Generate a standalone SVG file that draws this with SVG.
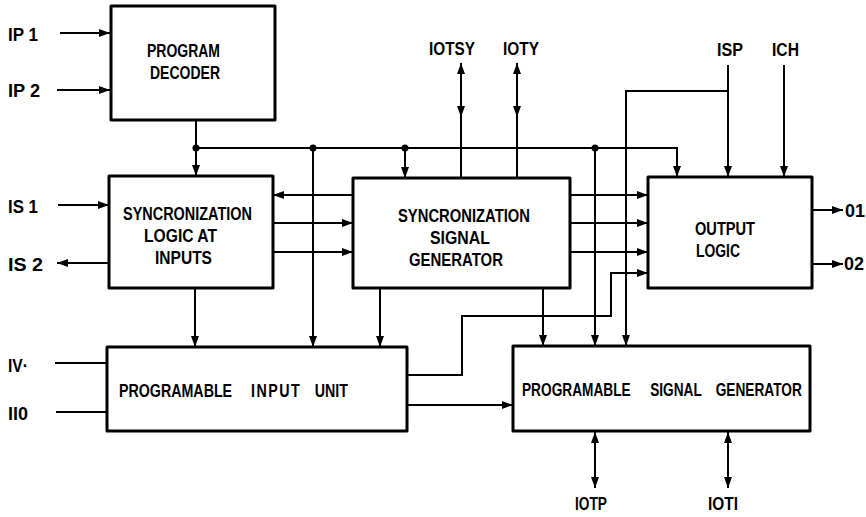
<svg xmlns="http://www.w3.org/2000/svg" width="866" height="517" viewBox="0 0 866 517">
<style>
.box{fill:#fff;stroke:#000;stroke-width:3;stroke-linejoin:round}
.ln{fill:none;stroke:#000;stroke-width:2}
.bt{font-family:"Liberation Sans",Arial,sans-serif;font-size:19px;font-weight:bold;fill:#000}
.lb{font-family:"Liberation Sans",Arial,sans-serif;font-size:17.5px;font-weight:bold;fill:#000}
.dot{fill:#000}
</style>
<defs>
<marker id="a" markerUnits="userSpaceOnUse" markerWidth="12" markerHeight="10" refX="11" refY="5" orient="auto">
<path d="M0,1 L11,5 L0,9 Z" fill="#000"/>
</marker>
</defs>
<rect width="866" height="517" fill="#fff"/>

<g id="connectors">
<path class="ln" d="M60,33 H110" marker-end="url(#a)"/>
<path class="ln" d="M57,90 H110" marker-end="url(#a)"/>
<path class="ln" d="M58,205 H109" marker-end="url(#a)"/>
<path class="ln" d="M109,263 H57" marker-end="url(#a)"/>
<path class="ln" d="M55,363 H107"/>
<path class="ln" d="M56,412 H107"/>
<path class="ln" d="M196,120 V176" marker-end="url(#a)"/>
<path class="ln" d="M196,148 H677 V177" marker-end="url(#a)"/>
<circle class="dot" cx="196" cy="148" r="3.5"/>
<path class="ln" d="M313,148 V347" marker-end="url(#a)"/>
<circle class="dot" cx="313" cy="148" r="3.5"/>
<path class="ln" d="M405,148 V178" marker-end="url(#a)"/>
<circle class="dot" cx="405" cy="148" r="3.5"/>
<path class="ln" d="M595,148 V346" marker-end="url(#a)"/>
<circle class="dot" cx="595" cy="148" r="3.5"/>
<path class="ln" d="M461,100 V63" marker-end="url(#a)"/>
<path class="ln" d="M461,80 V117" marker-end="url(#a)"/>
<path class="ln" d="M461,117 V178"/>
<path class="ln" d="M517,100 V63" marker-end="url(#a)"/>
<path class="ln" d="M517,80 V117" marker-end="url(#a)"/>
<path class="ln" d="M517,117 V178"/>
<path class="ln" d="M728,65 V177" marker-end="url(#a)"/>
<path class="ln" d="M728,91 H626 V346" marker-end="url(#a)"/>
<path class="ln" d="M784,65 V177" marker-end="url(#a)"/>
<path class="ln" d="M353,195 H273" marker-end="url(#a)"/>
<path class="ln" d="M273,223 H353" marker-end="url(#a)"/>
<path class="ln" d="M273,252 H353" marker-end="url(#a)"/>
<path class="ln" d="M570,195 H648" marker-end="url(#a)"/>
<path class="ln" d="M570,223 H648" marker-end="url(#a)"/>
<path class="ln" d="M570,252 H648" marker-end="url(#a)"/>
<path class="ln" d="M195,288 V347" marker-end="url(#a)"/>
<path class="ln" d="M380,288 V347" marker-end="url(#a)"/>
<path class="ln" d="M543,288 V346" marker-end="url(#a)"/>
<path class="ln" d="M407,375 H462 V316 H611 V273 H648" marker-end="url(#a)"/>
<path class="ln" d="M407,405 H513" marker-end="url(#a)"/>
<path class="ln" d="M812,210 H843" marker-end="url(#a)"/>
<path class="ln" d="M812,264 H843" marker-end="url(#a)"/>
<path class="ln" d="M595,460 V432" marker-end="url(#a)"/>
<path class="ln" d="M595,440 V488" marker-end="url(#a)"/>
<path class="ln" d="M728,455 V432" marker-end="url(#a)"/>
<path class="ln" d="M728,440 V488" marker-end="url(#a)"/>
</g>

<g id="labels">
<text class="lb" x="8" y="41" textLength="30" lengthAdjust="spacingAndGlyphs">IP 1</text>
<text class="lb" x="8" y="97" textLength="32" lengthAdjust="spacingAndGlyphs">IP 2</text>
<text class="lb" x="8" y="213" textLength="30" lengthAdjust="spacingAndGlyphs">IS 1</text>
<text class="lb" x="8" y="271" textLength="35" lengthAdjust="spacingAndGlyphs">IS 2</text>
<text class="lb" x="8" y="372" textLength="20" lengthAdjust="spacingAndGlyphs">IV·</text>
<text class="lb" x="8" y="420" textLength="20" lengthAdjust="spacingAndGlyphs">II0</text>
<text class="lb" x="429" y="55" textLength="46" lengthAdjust="spacingAndGlyphs">IOTSY</text>
<text class="lb" x="503" y="55" textLength="36" lengthAdjust="spacingAndGlyphs">IOTY</text>
<text class="lb" x="717" y="56" textLength="26" lengthAdjust="spacingAndGlyphs">ISP</text>
<text class="lb" x="772" y="56" textLength="27" lengthAdjust="spacingAndGlyphs">ICH</text>
<text class="lb" x="845" y="217" textLength="20" lengthAdjust="spacingAndGlyphs">01</text>
<text class="lb" x="844" y="270" textLength="20" lengthAdjust="spacingAndGlyphs">02</text>
<text class="lb" x="575" y="510" textLength="32" lengthAdjust="spacingAndGlyphs">IOTP</text>
<text class="lb" x="708" y="510" textLength="30" lengthAdjust="spacingAndGlyphs">IOTI</text>
</g>

<g id="program-decoder">
<rect class="box" x="111" y="6" width="164" height="114"/>
<text class="bt" x="147" y="57" textLength="73" lengthAdjust="spacingAndGlyphs">PROGRAM</text>
<text class="bt" x="150" y="79" textLength="70" lengthAdjust="spacingAndGlyphs">DECODER</text>
</g>

<g id="sync-logic">
<rect class="box" x="109" y="176" width="164" height="112"/>
<text class="bt" x="123" y="220" textLength="129" lengthAdjust="spacingAndGlyphs">SYNCRONIZATION</text>
<text class="bt" x="144" y="242" textLength="73" lengthAdjust="spacingAndGlyphs">LOGIC AT</text>
<text class="bt" x="155" y="264" textLength="57" lengthAdjust="spacingAndGlyphs">INPUTS</text>
</g>

<g id="sync-generator">
<rect class="box" x="353" y="178" width="217" height="110"/>
<text class="bt" x="398" y="222" textLength="132" lengthAdjust="spacingAndGlyphs">SYNCRONIZATION</text>
<text class="bt" x="430" y="244" textLength="60" lengthAdjust="spacingAndGlyphs">SIGNAL</text>
<text class="bt" x="409" y="266" textLength="94" lengthAdjust="spacingAndGlyphs">GENERATOR</text>
</g>

<g id="output-logic">
<rect class="box" x="648" y="177" width="164" height="111"/>
<text class="bt" x="695" y="235" textLength="60" lengthAdjust="spacingAndGlyphs">OUTPUT</text>
<text class="bt" x="696" y="257" textLength="44" lengthAdjust="spacingAndGlyphs">LOGIC</text>
</g>

<g id="input-unit">
<rect class="box" x="107" y="347" width="300" height="84"/>
<text class="bt" transform="translate(119,397) scale(0.75,1)"><tspan x="0" y="0">PROGRAMABLE</tspan><tspan x="176" y="0" letter-spacing="2">INPUT</tspan><tspan x="261" y="0">UNIT</tspan></text>
</g>

<g id="signal-generator">
<rect class="box" x="513" y="346" width="297" height="85"/>
<text class="bt" transform="translate(522,396) scale(0.72,1)"><tspan x="0" y="0">PROGRAMABLE</tspan><tspan x="178" y="0">SIGNAL</tspan><tspan x="269" y="0">GENERATOR</tspan></text>
</g>
</svg>
